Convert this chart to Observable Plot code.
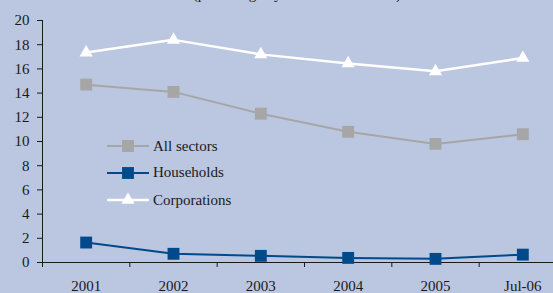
<!DOCTYPE html>
<html>
<head>
<meta charset="utf-8">
<script src="https://cdn.jsdelivr.net/npm/d3@7"></script>
<script src="https://cdn.jsdelivr.net/npm/@observablehq/plot@0.6"></script>
<style>
  html, body { margin: 0; padding: 0; background: #BBC6E0; overflow: hidden; }
  #wrap { position: relative; width: 553px; height: 293px; overflow: hidden; font-family: "Liberation Serif", "Times New Roman", serif; color: #1a1a1a; }
  #title { position: absolute; left: 0; width: 594px; top: -13.5px; font-size: 15px; line-height: 15px; text-align: center; white-space: nowrap; }
  .leg { position: absolute; left: 107px; height: 16px; display: flex; align-items: center; font-size: 15px; }
  .leg svg { display: block; margin-right: 4px; }
  #chart { position: absolute; left: 0; top: 0; }
</style>
</head>
<body>
<div id="wrap">
  <div id="chart"></div>
  <div id="title">(percentage by sector of borrower)</div>
  <div id="legend"></div>
</div>
<script>
const years = ["2001", "2002", "2003", "2004", "2005", "Jul-06"];
const allSectors = [14.7, 14.1, 12.3, 10.8, 9.8, 10.6];
const households = [1.65, 0.72, 0.55, 0.38, 0.3, 0.65];
const corporations = [17.35, 18.4, 17.2, 16.45, 15.8, 16.9];
const seriesNames = ["All sectors", "Households", "Corporations"];
const seriesColors = ["#A6A6A6", "#004A8C", "#FFFFFF"];
const seriesSymbols = ["square", "square", "triangle"];

const seriesValues = [allSectors, households, corporations];
const rows = [];
seriesValues.forEach((vals, s) => vals.forEach((v, i) => rows.push({i, series: seriesNames[s], value: v})));

const marks = [
  Plot.ruleY([0], {stroke: "#1a1a1a", strokeWidth: 1}),
  Plot.ruleX([-0.5], {stroke: "#1a1a1a", strokeWidth: 1}),
  Plot.axisY({ticks: d3.range(0, 21, 2), tickSize: 5, tickPadding: 8, label: null, stroke: "#1a1a1a"}),
  Plot.axisX({ticks: [-0.5, 0.5, 1.5, 2.5, 3.5, 4.5], tickFormat: () => "", tickSize: 5, label: null, stroke: "#1a1a1a"}),
  Plot.axisX({ticks: [0, 1, 2, 3, 4, 5], tickFormat: i => years[i], tickSize: 0, tickPadding: 18, label: null})
];
seriesNames.forEach((name, s) => {
  const d = rows.filter(r => r.series === name);
  marks.push(Plot.line(d, {x: "i", y: "value", stroke: seriesColors[s], strokeWidth: s === 2 ? 2.5 : 2}));
  marks.push(Plot.dot(d, {x: "i", y: "value", symbol: seriesSymbols[s], fill: seriesColors[s], stroke: "none", r: s === 2 ? 4.9 : 6.7}));
});

const chart = Plot.plot({
  width: 553,
  height: 293,
  marginLeft: 42,
  marginRight: 0,
  marginTop: 20,
  marginBottom: 31,
  style: {background: "transparent", fontFamily: "'Liberation Serif', 'Times New Roman', serif", fontSize: "15px", color: "#1a1a1a"},
  x: {type: "linear", domain: [-0.5, 5.5], range: [42, 566]},
  y: {domain: [0, 20]},
  marks
});
document.getElementById("chart").appendChild(chart);

// legend
const legend = document.getElementById("legend");
const legTops = [146, 172.5, 200];
seriesNames.forEach((name, s) => {
  const row = document.createElement("div");
  row.className = "leg";
  row.style.top = (legTops[s] - 8) + "px";
  const ns = "http://www.w3.org/2000/svg";
  const svg = document.createElementNS(ns, "svg");
  svg.setAttribute("width", 42); svg.setAttribute("height", 16);
  const ln = document.createElementNS(ns, "line");
  ln.setAttribute("x1", 0); ln.setAttribute("x2", 42); ln.setAttribute("y1", 8); ln.setAttribute("y2", 8);
  ln.setAttribute("stroke", seriesColors[s]); ln.setAttribute("stroke-width", s === 2 ? 2.5 : 2);
  svg.appendChild(ln);
  const sym = document.createElementNS(ns, "path");
  const sz = s === 2 ? 4.9 * 4.9 * Math.PI : 6.7 * 6.7 * Math.PI;
  sym.setAttribute("d", d3.symbol(seriesSymbols[s] === "square" ? d3.symbolSquare : d3.symbolTriangle, sz)());
  sym.setAttribute("transform", "translate(21,8)");
  sym.setAttribute("fill", seriesColors[s]);
  svg.appendChild(sym);
  row.appendChild(svg);
  const t = document.createElement("span");
  t.textContent = name;
  row.appendChild(t);
  legend.appendChild(row);
});
</script>
</body>
</html>
